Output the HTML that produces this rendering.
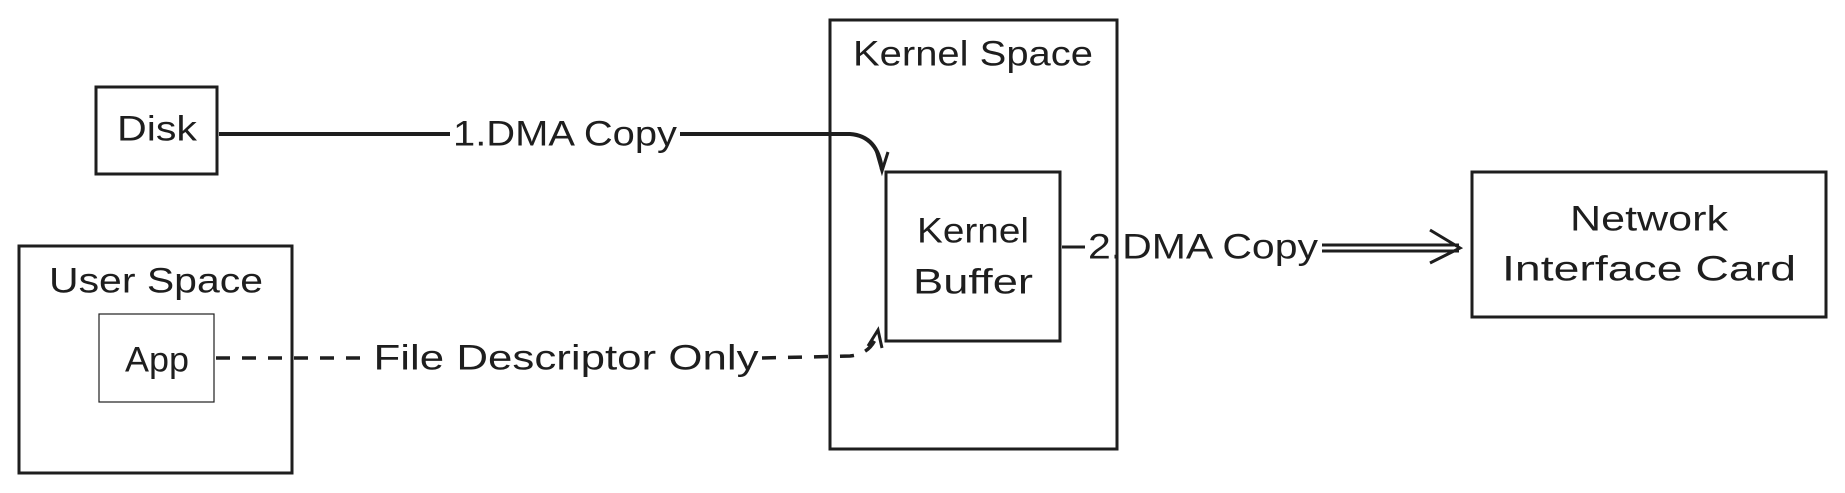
<!DOCTYPE html>
<html><head><meta charset="utf-8"><style>html,body{margin:0;padding:0;background:#fff}svg{display:block}</style></head>
<body>
<svg width="1845" height="493" viewBox="0 0 1845 493" xmlns="http://www.w3.org/2000/svg" font-family="Liberation Sans, sans-serif" font-size="35" fill="#1e1e1e">
<g fill="none" stroke="#1e1e1e" stroke-width="3">
<rect x="830" y="20" width="287" height="429"/>
<rect x="96" y="87" width="121" height="87"/>
<rect x="19" y="246" width="273" height="227"/>
<rect x="99" y="314" width="115" height="88" stroke-width="1.2"/>
<rect x="886" y="172" width="174" height="169"/>
<rect x="1472" y="172" width="354" height="145"/>
<path d="M219 134 L450 134 M680 134 L850 134 Q878 136 882 170" stroke-width="4"/>
<path d="M876 150 L882 171 L888 152" stroke-width="3"/>
<path d="M1062 247 L1085 247" stroke-width="3"/>
<path d="M1322 245 L1459 245 M1322 251 L1459 251" stroke-width="3"/>
<path d="M1430 230 L1460 248 L1430 263" stroke-width="3"/>
<path d="M216 358 L370 358 M762 358 L850 356 Q872 354 878 332" stroke-width="3.5" stroke-dasharray="14 12"/>
<path d="M868 346 L878 330 L882 348" stroke-width="3"/>
</g>
<g text-anchor="middle" dominant-baseline="central">
<text x="973" y="54" textLength="240" lengthAdjust="spacingAndGlyphs">Kernel Space</text>
<text x="157" y="129" textLength="80" lengthAdjust="spacingAndGlyphs">Disk</text>
<text x="156" y="281" textLength="214" lengthAdjust="spacingAndGlyphs">User Space</text>
<text x="157" y="360" textLength="64" lengthAdjust="spacingAndGlyphs">App</text>
<text x="973" y="231" textLength="112" lengthAdjust="spacingAndGlyphs">Kernel</text>
<text x="973" y="282" textLength="120" lengthAdjust="spacingAndGlyphs">Buffer</text>
<text x="1649" y="219" textLength="158" lengthAdjust="spacingAndGlyphs">Network</text>
<text x="1649" y="269" textLength="294" lengthAdjust="spacingAndGlyphs">Interface Card</text>
<text x="565" y="134" textLength="224" lengthAdjust="spacingAndGlyphs">1.DMA Copy</text>
<text x="1203" y="247" textLength="230" lengthAdjust="spacingAndGlyphs">2.DMA Copy</text>
<text x="566" y="358" textLength="385" lengthAdjust="spacingAndGlyphs">File Descriptor Only</text>
</g>
</svg>
</body></html>
